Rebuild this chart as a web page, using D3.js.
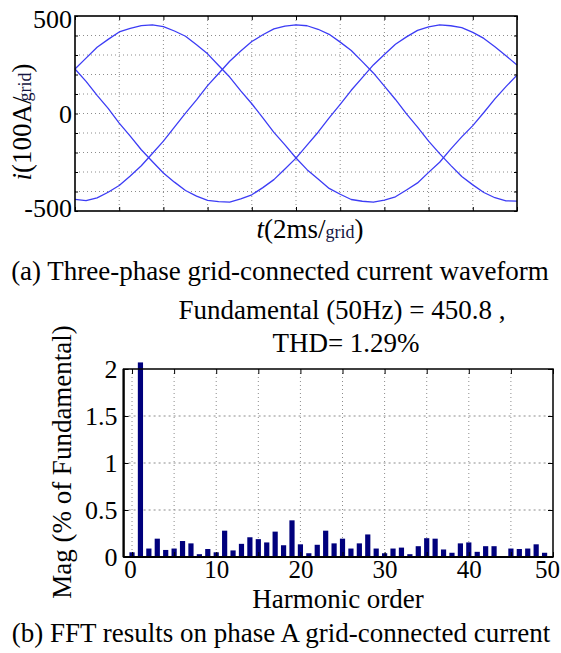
<!DOCTYPE html>
<html><head><meta charset="utf-8">
<script src="https://cdn.jsdelivr.net/npm/d3@7"></script>
<style>
html,body{margin:0;padding:0;background:#fff;}
svg{display:block;font-family:"Liberation Serif","Times New Roman",Times,serif;}
</style></head><body>
<svg id="c" width="561" height="653" font-family="Liberation Serif, Times New Roman, serif"></svg>
<script>
// ---------- data: (a) three-phase current waveform ----------
const timeMs = [0,0.5,1,1.5,2,2.5,3,3.5,4,4.5,5,5.5,6,6.5,7,7.5,8,8.5,9,9.5,10,
  10.5,11,11.5,12,12.5,13,13.5,14,14.5,15,15.5,16,16.5,17,17.5,18,18.5,19,19.5,20];
const phaseA = [228,284,340,380,418,437,451,455,446,423,396,352,306,246,187,116,50,-22,-97,-161,
  -228,-288,-336,-384,-414,-441,-450,-455,-444,-427,-392,-356,-302,-250,-183,-120,-62,5,75,138,197];
const phaseB = [-440,-447,-433,-404,-369,-320,-268,-205,-142,-70,2,70,143,205,268,320,369,404,434,448,
  455,450,432,406,366,323,266,208,140,72,-2,-70,-142,-206,-266,-323,-366,-405,-432,-448,-449];
const phaseC = [228,165,93,26,-49,-116,-186,-246,-305,-352,-395,-424,-446,-452,-454,-438,-417,-380,-339,-285,
  -229,-162,-96,-22,47,119,184,249,303,355,393,426,444,455,450,440,416,385,342,296,249];
const timeGridTicks = [0,2,4,6,8,10,12,14,16,18,20];
const currentGridTicks = [-500,-400,-300,-200,-100,0,100,200,300,400,500];
const currentTickLabels = [500,0,-500];

// ---------- data: (b) FFT spectrum ----------
const harmonicOrder = [0,1,2,3,4,5,6,7,8,9,10,11,12,13,14,15,16,17,18,19,20,21,22,23,24,25,
  26,27,28,29,30,31,32,33,34,35,36,37,38,39,40,41,42,43,44,45,46,47,48,49,50];
const magnitude = [0.05,2.07,0.09,0.195,0.075,0.09,0.17,0.145,0.03,0.085,0.05,0.28,0.07,0.14,0.21,0.19,
  0.155,0.27,0.125,0.39,0.135,0.04,0.13,0.28,0.145,0.195,0.09,0.145,0.24,0.09,0.04,0.09,0.10,0.03,
  0.115,0.20,0.195,0.08,0.045,0.145,0.155,0.055,0.115,0.115,0,0.09,0.085,0.09,0.135,0.045,0];
const harmonicGridTicks = [0,5,10,15,20,25,30,35,40,45,50];
const harmonicTickLabels = [0,10,20,30,40,50];
const magTicks = [0,0.5,1,1.5,2];

const svg = d3.select("#c");
const SERIF = "Liberation Serif, Times New Roman, serif";
const BLUE = "#3c3cf5", NAVY = "#00007c", GRID = "#8c8c8c";

// ================= (a) =================
const xT = d3.scaleLinear().domain([0,20]).range([75,517]);
const yT = d3.scaleLinear().domain([-500,500]).range([211,16]);
const gA = svg.append("g");

gA.append("g").selectAll("line").data(timeGridTicks.slice(1,-1)).join("line")
  .attr("x1",d=>xT(d)).attr("x2",d=>xT(d)).attr("y1",yT(500)).attr("y2",yT(-500))
  .attr("stroke",GRID).attr("stroke-width",1).attr("stroke-dasharray","1,3");
gA.append("g").selectAll("line").data(currentGridTicks.slice(1,-1)).join("line")
  .attr("x1",xT(0)).attr("x2",xT(20)).attr("y1",d=>yT(d)).attr("y2",d=>yT(d))
  .attr("stroke",GRID).attr("stroke-width",1).attr("stroke-dasharray","1,3");

const lineT = d3.line().x((d,i)=>xT(timeMs[i])).y(d=>yT(d));
[phaseA,phaseB,phaseC].forEach(s=>{
  gA.append("path").datum(s).attr("d",lineT).attr("fill","none")
    .attr("stroke",BLUE).attr("stroke-width",1.3).attr("stroke-linejoin","round");
});

function inTicks(g, axis){ g.call(axis); g.select(".domain").remove(); g.selectAll("text").remove();
  g.selectAll("line").attr("stroke","#000").attr("stroke-width",1); }
inTicks(gA.append("g").attr("transform",`translate(0,${yT(-500)})`), d3.axisTop(xT).tickValues(timeGridTicks).tickSize(4));
inTicks(gA.append("g").attr("transform",`translate(0,${yT(500)})`), d3.axisBottom(xT).tickValues(timeGridTicks).tickSize(4));
inTicks(gA.append("g").attr("transform",`translate(${xT(0)},0)`), d3.axisRight(yT).tickValues(currentGridTicks).tickSize(3));
inTicks(gA.append("g").attr("transform",`translate(${xT(20)},0)`), d3.axisLeft(yT).tickValues(currentGridTicks).tickSize(3));

gA.append("rect").attr("x",xT(0)).attr("y",yT(500)).attr("width",xT(20)-xT(0)).attr("height",yT(-500)-yT(500))
  .attr("fill","none").attr("stroke","#000").attr("stroke-width",1.6);

const yAxA = gA.append("g").attr("transform",`translate(${xT(0)},0)`)
  .call(d3.axisLeft(yT).tickValues(currentTickLabels).tickSize(0).tickPadding(3).tickFormat(d3.format("d")));
yAxA.select(".domain").remove();
yAxA.attr("font-family",SERIF);
yAxA.selectAll("text").attr("font-size",26).attr("fill","#000").attr("font-family",SERIF)
  .attr("dy",d=>d===500?"0.46em":(d===-500?"0.2em":"0.34em"))
  .text(d=>d<0?"-"+Math.abs(d):d);

// y label
const yl = gA.append("text").attr("transform","translate(31,122) rotate(-90)")
  .attr("text-anchor","middle").attr("font-size",27).attr("fill","#000");
yl.append("tspan").attr("font-style","italic").text("i");
yl.append("tspan").text("(100A/");
yl.append("tspan").attr("font-size",18).attr("dx",-5).attr("fill","#141440").text("grid");
yl.append("tspan").text(")");

// x label
const xl = gA.append("text").attr("x",310).attr("y",238)
  .attr("text-anchor","middle").attr("font-size",27).attr("fill","#000");
xl.append("tspan").attr("font-style","italic").text("t");
xl.append("tspan").text("(2ms/");
xl.append("tspan").attr("font-size",18).attr("fill","#141440").text("grid");
xl.append("tspan").text(")");

svg.append("text").attr("x",280).attr("y",280).attr("text-anchor","middle")
  .attr("font-size",27).attr("fill","#000").text("(a) Three-phase grid-connected current waveform");

// ================= (b) =================
const xB = d3.scaleLinear().domain([-1,50]).range([123.6,553]);
const yB = d3.scaleLinear().domain([0,2]).range([557,369]);
const gB = svg.append("g");

svg.append("text").attr("x",342).attr("y",319).attr("text-anchor","middle")
  .attr("font-size",27).attr("fill","#000").text("Fundamental (50Hz) = 450.8 ,");
svg.append("text").attr("x",346).attr("y",352).attr("text-anchor","middle")
  .attr("font-size",27).attr("fill","#000").text("THD= 1.29%");

gB.append("g").selectAll("line").data(harmonicGridTicks.slice(0,-1)).join("line")
  .attr("x1",d=>xB(d)).attr("x2",d=>xB(d)).attr("y1",yB(2)).attr("y2",yB(0))
  .attr("stroke",GRID).attr("stroke-width",1).attr("stroke-dasharray","1,3");
gB.append("g").selectAll("line").data(magTicks.slice(1,-1)).join("line")
  .attr("x1",xB(-1)).attr("x2",xB(50)).attr("y1",d=>yB(d)).attr("y2",d=>yB(d))
  .attr("stroke",GRID).attr("stroke-width",1).attr("stroke-dasharray","2,3");

gB.append("g").selectAll("rect").data(harmonicOrder).join("rect")
  .attr("x",d=>xB(d)-2.6).attr("width",5.2)
  .attr("y",(d,i)=>yB(magnitude[i])).attr("height",(d,i)=>yB(0)-yB(magnitude[i]))
  .attr("fill",NAVY);

inTicks(gB.append("g").attr("transform",`translate(0,${yB(2)})`), d3.axisBottom(xB).tickValues(harmonicGridTicks).tickSize(5));
inTicks(gB.append("g").attr("transform",`translate(0,${yB(0)})`), d3.axisTop(xB).tickValues(harmonicGridTicks).tickSize(5));
inTicks(gB.append("g").attr("transform",`translate(${xB(-1)},0)`), d3.axisRight(yB).tickValues(magTicks).tickSize(5));
inTicks(gB.append("g").attr("transform",`translate(${xB(50)},0)`), d3.axisLeft(yB).tickValues(magTicks).tickSize(5));

gB.append("rect").attr("x",xB(-1)).attr("y",yB(2)).attr("width",xB(50)-xB(-1)).attr("height",yB(0)-yB(2))
  .attr("fill","none").attr("stroke","#000").attr("stroke-width",1.5);
gB.append("line").attr("x1",xB(-1)).attr("x2",xB(50)).attr("y1",yB(0)).attr("y2",yB(0))
  .attr("stroke","#000").attr("stroke-width",2.2);
gB.append("line").attr("x1",xB(-1)).attr("x2",xB(-1)).attr("y1",yB(0)).attr("y2",yB(2))
  .attr("stroke","#000").attr("stroke-width",2.2);

const yAxB = gB.append("g").attr("transform",`translate(${xB(-1)},0)`)
  .call(d3.axisLeft(yB).tickValues(magTicks).tickSize(0).tickPadding(6).tickFormat(d3.format("~g")));
yAxB.select(".domain").remove();
yAxB.attr("font-family",SERIF);
yAxB.selectAll("text").attr("font-size",26).attr("fill","#000").attr("font-family",SERIF);

const xAxB = gB.append("g").attr("transform",`translate(0,${yB(0)})`)
  .call(d3.axisBottom(xB).tickValues(harmonicTickLabels).tickSize(0).tickPadding(3).tickFormat(d3.format("d")));
xAxB.select(".domain").remove();
xAxB.attr("font-family",SERIF);
xAxB.selectAll("text").attr("font-size",25).attr("fill","#000").attr("font-family",SERIF)
  .attr("dx",d=>d===50?"-6":(d===0?"-2":"0"));

svg.append("text").attr("x",338).attr("y",608).attr("text-anchor","middle")
  .attr("font-size",27).attr("fill","#000").text("Harmonic order");
svg.append("text").attr("transform","translate(71,462) rotate(-90)").attr("text-anchor","middle")
  .attr("font-size",27).attr("fill","#000").text("Mag (% of Fundamental)");

svg.append("text").attr("x",281).attr("y",642).attr("text-anchor","middle")
  .attr("font-size",27).attr("fill","#000").text("(b) FFT results on phase A grid-connected current");
</script>
</body></html>
